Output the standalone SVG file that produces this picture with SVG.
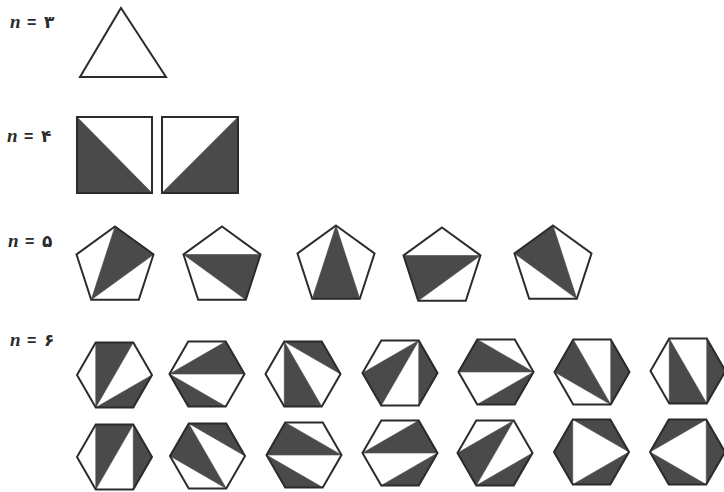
<svg xmlns="http://www.w3.org/2000/svg" width="724" height="492" viewBox="0 0 724 492">
<style>
.o{fill:none;stroke:#2b2b2b;stroke-width:2;stroke-linejoin:miter}
.d{fill:#4a4a4a;stroke:#4a4a4a;stroke-width:0.6}
.n{font-family:"Liberation Serif",serif;font-style:italic;font-weight:bold;font-size:19px;fill:#2b2b2b}
.eq{font-family:"Liberation Sans",sans-serif;font-weight:bold;font-size:16px;fill:#2b2b2b}
.dg{font-family:"DejaVu Sans",sans-serif;font-weight:bold;font-size:17px;fill:#2b2b2b}
</style>
<defs>
<polygon id="hex" class="o" points="-18.75,-32.5 18.75,-32.5 37.5,0 18.75,32.5 -18.75,32.5 -37.5,0"/>
<polygon id="pent" class="o" points="0,-40.5 38.5,-12.5 23.8,32.8 -23.8,32.8 -38.5,-12.5"/>
</defs>

<g id="labels">
<text x="10" y="28"><tspan class="n">n</tspan><tspan class="eq" x="27">=</tspan><tspan class="dg" x="44">۳</tspan></text>
<text x="7" y="142"><tspan class="n">n</tspan><tspan class="eq" x="24">=</tspan><tspan class="dg" x="41">۴</tspan></text>
<text x="8" y="247"><tspan class="n">n</tspan><tspan class="eq" x="25">=</tspan><tspan class="dg" x="42">۵</tspan></text>
<text x="10" y="346"><tspan class="n">n</tspan><tspan class="eq" x="27">=</tspan><tspan class="dg" x="44">۶</tspan></text>
</g>

<g id="tri3">
<polygon class="o" points="121,8 166,77 80,77"/>
</g>

<g id="sq1">
<polygon class="d" points="77,117 152,193 77,193"/>
<rect class="o" x="77" y="117" width="75" height="76"/>
</g>
<g id="sq2">
<polygon class="d" points="238,117 238,193 162,193"/>
<rect class="o" x="162" y="117" width="76" height="76"/>
</g>

<!-- pentagons: 0 T,1 R,2 BR,3 BL,4 L -->
<g id="p1" transform="translate(115,267)">
<polygon class="d" points="0,-40.5 38.5,-12.5 -23.8,32.8"/>
<use href="#pent"/>
</g>
<g id="p2" transform="translate(222,267)">
<polygon class="d" points="-38.5,-12.5 38.5,-12.5 23.8,32.8"/>
<use href="#pent"/>
</g>
<g id="p3" transform="translate(336,266)">
<polygon class="d" points="0,-40.5 23.8,32.8 -23.8,32.8"/>
<use href="#pent"/>
</g>
<g id="p4" transform="translate(442,268)">
<polygon class="d" points="-38.5,-12.5 38.5,-12.5 -23.8,32.8"/>
<use href="#pent"/>
</g>
<g id="p5" transform="translate(553,266)">
<polygon class="d" points="0,-40.5 -38.5,-12.5 23.8,32.8"/>
<use href="#pent"/>
</g>

<!-- hexagons: 0 TL,1 TR,2 R,3 BR,4 BL,5 L -->
<g id="h1" transform="translate(114.5,375)">
<polygon class="d" points="-18.75,-32.5 18.75,-32.5 -18.75,32.5"/>
<polygon class="d" points="37.5,0 18.75,32.5 -18.75,32.5"/>
<use href="#hex"/>
</g>
<g id="h2" transform="translate(207,374)">
<polygon class="d" points="-37.5,0 18.75,-32.5 37.5,0"/>
<polygon class="d" points="-37.5,0 18.75,32.5 -18.75,32.5"/>
<use href="#hex"/>
</g>
<g id="h3" transform="translate(303,374)">
<polygon class="d" points="-18.75,-32.5 18.75,-32.5 37.5,0"/>
<polygon class="d" points="-18.75,-32.5 18.75,32.5 -18.75,32.5"/>
<use href="#hex"/>
</g>
<g id="h4" transform="translate(400,373)">
<polygon class="d" points="-37.5,0 18.75,-32.5 -18.75,32.5"/>
<polygon class="d" points="18.75,-32.5 37.5,0 18.75,32.5"/>
<use href="#hex"/>
</g>
<g id="h5" transform="translate(496,372)">
<polygon class="d" points="-18.75,-32.5 37.5,0 -37.5,0"/>
<polygon class="d" points="37.5,0 18.75,32.5 -18.75,32.5"/>
<use href="#hex"/>
</g>
<g id="h6" transform="translate(592,372)">
<polygon class="d" points="18.75,-32.5 37.5,0 18.75,32.5"/>
<polygon class="d" points="-18.75,-32.5 18.75,32.5 -37.5,0"/>
<use href="#hex"/>
</g>
<g id="h7" transform="translate(688,371)">
<polygon class="d" points="-18.75,-32.5 18.75,32.5 -18.75,32.5"/>
<polygon class="d" points="18.75,-32.5 37.5,0 18.75,32.5"/>
<use href="#hex"/>
</g>

<g id="h8" transform="translate(114.5,457)">
<polygon class="d" points="-18.75,-32.5 18.75,-32.5 -18.75,32.5"/>
<polygon class="d" points="18.75,-32.5 37.5,0 18.75,32.5"/>
<use href="#hex"/>
</g>
<g id="h9" transform="translate(207.5,456)">
<polygon class="d" points="-18.75,-32.5 18.75,-32.5 37.5,0"/>
<polygon class="d" points="-18.75,-32.5 18.75,32.5 -37.5,0"/>
<use href="#hex"/>
</g>
<g id="h10" transform="translate(304,455)">
<polygon class="d" points="-18.75,-32.5 37.5,0 -37.5,0"/>
<polygon class="d" points="-37.5,0 18.75,32.5 -18.75,32.5"/>
<use href="#hex"/>
</g>
<g id="h11" transform="translate(400,453)">
<polygon class="d" points="-37.5,0 18.75,-32.5 37.5,0"/>
<polygon class="d" points="37.5,0 18.75,32.5 -18.75,32.5"/>
<use href="#hex"/>
</g>
<g id="h12" transform="translate(495,453)">
<polygon class="d" points="-37.5,0 18.75,-32.5 -18.75,32.5"/>
<polygon class="d" points="37.5,0 18.75,32.5 -18.75,32.5"/>
<use href="#hex"/>
</g>
<g id="h13" transform="translate(591.5,452)">
<polygon class="d" points="-37.5,0 -18.75,-32.5 -18.75,32.5"/>
<polygon class="d" points="-18.75,-32.5 18.75,-32.5 37.5,0"/>
<polygon class="d" points="37.5,0 18.75,32.5 -18.75,32.5"/>
<use href="#hex"/>
</g>
<g id="h14" transform="translate(687.5,452)">
<polygon class="d" points="-37.5,0 -18.75,-32.5 18.75,-32.5"/>
<polygon class="d" points="18.75,-32.5 37.5,0 18.75,32.5"/>
<polygon class="d" points="18.75,32.5 -18.75,32.5 -37.5,0"/>
<use href="#hex"/>
</g>
</svg>
